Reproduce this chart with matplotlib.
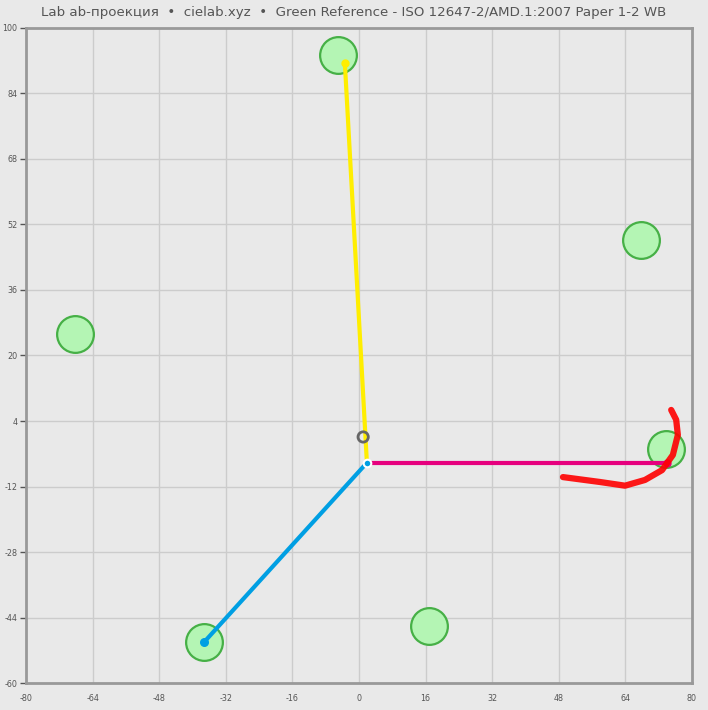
import matplotlib
matplotlib.use("Agg")
import matplotlib.pyplot as plt

plt.rcParams['axes.unicode_minus'] = False

# reference patches (a, b)
ref_a = [-5.0, 67.7, -68.2, 73.8, 16.8, -37.2]
ref_b = [93.4, 48.2, 25.3, -2.8, -46.1, -50.0]

# measured point and its a / b / hue vectors
origin = (1.9, -6.2)
yellow_end = (-3.4, 91.5)
magenta_end = (74.0, -6.2)
blue_end = (-37.2, -50.0)

# paper white
paper = (1.0, 0.1)

# red hand-drawn annotation
mark_a = [49.0, 57.9, 63.9, 68.7, 72.8, 75.4, 76.6, 76.2, 75.0]
mark_b = [-9.7, -10.9, -11.8, -10.4, -8.0, -4.3, 0.6, 4.3, 6.7]

xticks = list(range(-80, 81, 16))
yticks = list(range(-60, 101, 16))

fig = plt.figure(figsize=(7.08, 7.10), dpi=100)
fig.patch.set_facecolor('#e9e9e9')
ax = fig.add_axes([0.0367, 0.038, 0.9407, 0.9226])
ax.set_facecolor('#e9e9e9')

ax.set_xlim(-80, 80)
ax.set_ylim(-60, 100)
ax.set_xticks(xticks)
ax.set_yticks(yticks)
ax.grid(True, color='#cccccc', linewidth=1)
ax.set_axisbelow(True)
ax.tick_params(labelsize=5.8, colors='#555555', length=4, width=1, pad=2)
ax.tick_params(axis='x', length=0, pad=8)
for s in ax.spines.values():
    s.set_color('#999999')
    s.set_linewidth(2)

ax.scatter(ref_a, ref_b, s=700, facecolor='#b4f5b4', edgecolor='#46b046',
           linewidth=1.6, zorder=3)

ax.plot([origin[0], yellow_end[0]], [origin[1], yellow_end[1]], color='#ffee00',
        lw=3, zorder=4, solid_capstyle='round')
ax.plot([origin[0], magenta_end[0]], [origin[1], magenta_end[1]], color='#e6007e',
        lw=3, zorder=4, solid_capstyle='round')
ax.plot([origin[0], blue_end[0]], [origin[1], blue_end[1]], color='#009fe3',
        lw=3, zorder=4, solid_capstyle='round')
ax.scatter([yellow_end[0]], [yellow_end[1]], s=25, color='#ffee00', zorder=5)
ax.scatter([magenta_end[0]], [magenta_end[1]], s=25, color='#e6007e', zorder=5)
ax.scatter([blue_end[0]], [blue_end[1]], s=30, color='#009fe3', zorder=5)
ax.scatter([origin[0]], [origin[1]], s=30, facecolor='#009fe3', edgecolor='white',
           linewidth=1.5, zorder=6)

ax.scatter([paper[0]], [paper[1]], s=55, facecolor='none', edgecolor='#666666',
           linewidth=2, zorder=6)

ax.plot(mark_a, mark_b, color='#ff0000', lw=4.5, zorder=7, alpha=0.9,
        solid_capstyle='round', solid_joinstyle='round')

fig.text(0.5, 0.983, 'Lab ab-проекция  •  cielab.xyz  •  Green Reference - ISO 12647-2/AMD.1:2007 Paper 1-2 WB',
         ha='center', va='center', fontsize=9.6, color='#555555')

fig.savefig('out.png', dpi=100, facecolor=fig.get_facecolor())
